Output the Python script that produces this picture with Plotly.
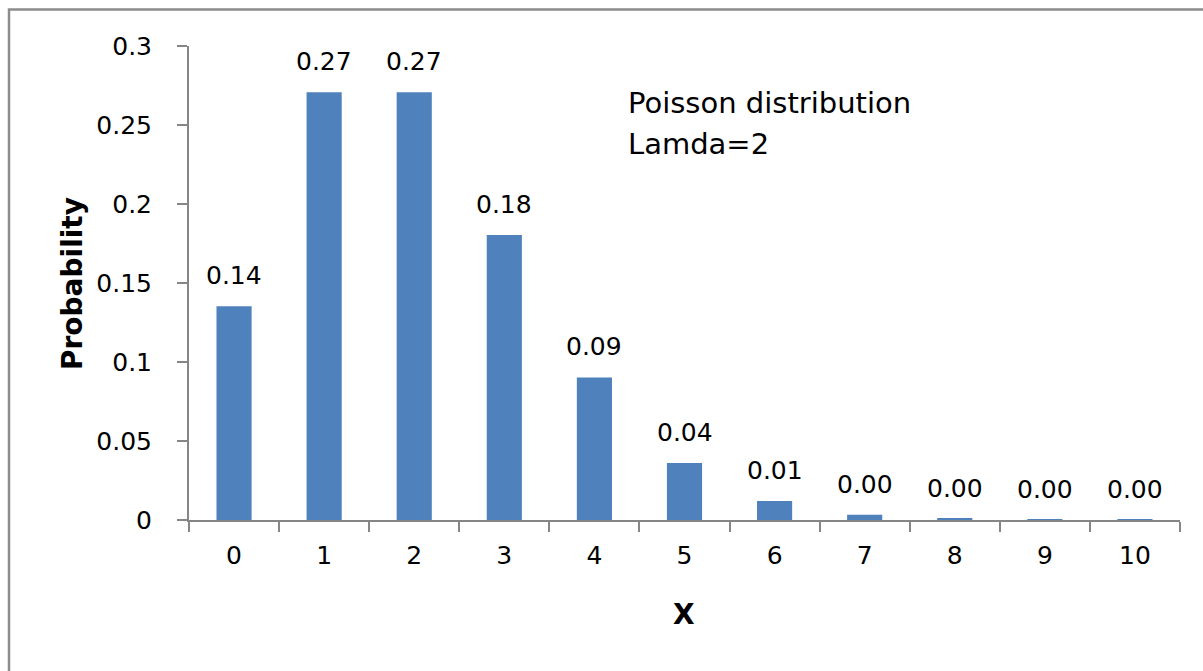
import plotly.graph_objects as go

x_cats = ["0", "1", "2", "3", "4", "5", "6", "7", "8", "9", "10"]
probs = [0.1353, 0.2707, 0.2707, 0.1804, 0.0902, 0.0361, 0.0120, 0.0034, 0.0009, 0.0002, 0.00004]
y_ticks = [0, 0.05, 0.1, 0.15, 0.2, 0.25, 0.3]
y_tick_text = ["0", "0.05", "0.1", "0.15", "0.2", "0.25", "0.3"]
note_lines = ["Poisson distribution", "Lamda=2"]
x_title = "X"
y_title = "Probability"

W, H = 1203, 671
L, R, T, B = 189, 23, 46, 151
pw, ph = W - L - R, H - T - B

def px2x(px):
    return (px - L) / pw

def py2y(py):
    return (H - B - py) / ph

FONT = "DejaVu Sans, Verdana, sans-serif"
label_font = dict(family=FONT, size=25, color="#000000")
title_font = dict(family=FONT, size=28, color="#000000")
axis_col = "#868686"

fig = go.Figure()
fig.add_trace(go.Bar(
    x=x_cats, y=probs,
    marker=dict(color="#4F81BD", line=dict(width=0)),
    width=0.39,
    hoverinfo="x+y",
))

for c, v in zip(x_cats, probs):
    fig.add_annotation(x=c, y=v, xref="x", yref="y", text=f"{v:.2f}",
                       showarrow=False, yanchor="bottom", yshift=14,
                       font=label_font)

fig.add_annotation(x=px2x(626), y=py2y(103), xref="paper", yref="paper",
                   text=note_lines[0], showarrow=False, xanchor="left", yanchor="middle",
                   font=dict(family=FONT, size=29, color="#000000"))
fig.add_annotation(x=px2x(626), y=py2y(144), xref="paper", yref="paper",
                   text=note_lines[1], showarrow=False, xanchor="left", yanchor="middle",
                   font=dict(family=FONT, size=29, color="#000000"))

# axis titles
fig.add_annotation(x=px2x(72), y=py2y(284), xref="paper", yref="paper",
                   text=f"<b>{y_title}</b>", showarrow=False, textangle=-90,
                   xanchor="center", yanchor="middle", font=title_font)
fig.add_annotation(x=px2x(684), y=py2y(614), xref="paper", yref="paper",
                   text=f"<b>{x_title}</b>", showarrow=False,
                   xanchor="center", yanchor="middle", font=title_font)

# chart border (left and top visible)
fig.add_shape(type="rect", xref="paper", yref="paper",
              x0=px2x(9), x1=px2x(1215), y0=py2y(690), y1=py2y(9.5),
              line=dict(color="#8C8C8C", width=2.5), fillcolor="rgba(0,0,0,0)", layer="below")

fig.update_layout(
    width=W, height=H,
    margin=dict(l=L, r=R, t=T, b=B, pad=0),
    paper_bgcolor="white", plot_bgcolor="white",
    showlegend=False,
    xaxis=dict(
        type="category", tickson="boundaries", ticks="outside", ticklen=10,
        tickwidth=2, tickcolor=axis_col, showline=True, linecolor=axis_col, linewidth=2,
        showgrid=False, zeroline=False, tickfont=label_font, ticklabelstandoff=12,
    ),
    yaxis=dict(
        range=[0, 0.3], tickvals=y_ticks, ticktext=y_tick_text, ticks="outside", ticklen=10,
        tickwidth=2, tickcolor=axis_col, showline=True, linecolor=axis_col, linewidth=2,
        showgrid=False, zeroline=False, tickfont=label_font, ticklabelstandoff=20,
    ),
)

fig.write_html("out.html")
